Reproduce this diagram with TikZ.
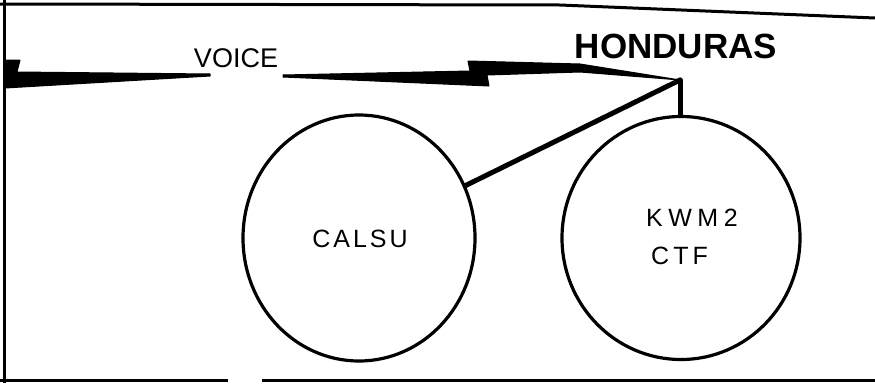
\documentclass[tikz,border=0pt]{standalone}
\usepackage{fontspec}
\setmainfont{Liberation Sans}
\usetikzlibrary{shapes.geometric}
\tikzset{
  frameline/.style={line width=3pt, black},
  circ/.style={draw, ellipse, line width=3.2pt, inner sep=0pt},
  link/.style={line width=5pt, line cap=round},
  bolt/.style={fill=black, draw=black, line width=1pt, line join=round},
  lbl/.style={inner sep=0pt, font=\fontsize{25}{25}\selectfont\addfontfeature{LetterSpace=12}}
}
\begin{document}
\begin{tikzpicture}[x=1pt, y=-1pt]
\useasboundingbox (0,0) rectangle (875,383);
% frame
\draw[frameline] (0,4) -- (560,5) -- (875,18);
\draw[frameline] (4,0) -- (4,383);
\draw[frameline] (0,380) -- (228,380);
\draw[frameline] (262,380) -- (875,380);
% circles
\node[circ, minimum width=232pt, minimum height=246pt] (L) at (359,238) {};
\node[circ, minimum width=238pt, minimum height=243pt] (R) at (681,238) {};
% labels
\node[lbl] (calsu) at (360,239) {CALSU};
\node[lbl, anchor=west, font=\fontsize{25}{25}\selectfont\addfontfeature{LetterSpace=22}] (kwm) at (646,218) {KWM2};
\node[lbl, anchor=west, font=\fontsize{25}{25}\selectfont\addfontfeature{LetterSpace=16}] (ctf) at (651,256) {CTF};
\node[inner sep=0pt, font=\fontsize{35}{35}\selectfont\bfseries] (hond) at (676,46) {HONDURAS};
\node[inner sep=0pt, font=\fontsize{27}{27}\selectfont] (voice) at (236,58) {VOICE};
% apex
\coordinate (apex) at (680,80);
% lightning bolt
\fill[bolt] (5,60) -- (20,60) -- (17,72) -- (210,74) -- (210,76) -- (5,88) -- cycle;
\fill[bolt] (283,75) -- (470,71) -- (468,61) -- (580,64) -- (apex) -- (580,72) -- (487,75) -- (489,86) -- (283,77) -- cycle;
% connectors
\draw[link] (apex) -- (L);
\draw[link] (apex) -- (apex |- R.north);
\end{tikzpicture}
\end{document}
